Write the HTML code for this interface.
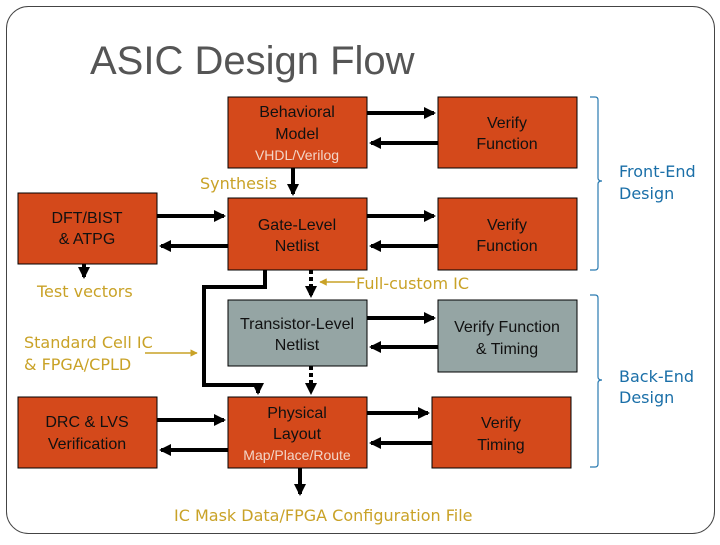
<!DOCTYPE html>
<html><head><style>
body{margin:0;background:#fff}
</style></head><body>
<svg width="720" height="540" xmlns="http://www.w3.org/2000/svg" font-family="Liberation Sans, sans-serif">
<defs>
<marker id="a" markerWidth="3" markerHeight="3" refX="2.5" refY="1.5" orient="auto" markerUnits="strokeWidth"><path d="M0,0L3,1.5L0,3z" fill="#000"/></marker>
<marker id="g" markerWidth="5" markerHeight="5" refX="4.5" refY="2.5" orient="auto" markerUnits="strokeWidth"><path d="M0,0L5,2.5L0,5z" fill="#c9a227"/></marker>
</defs>
<rect x="6.5" y="6.5" width="708" height="527" rx="22" fill="none" stroke="#444" stroke-width="1"/>
<text x="90" y="74" font-size="40" fill="#555">ASIC Design Flow</text>
<g stroke="#000" stroke-width="1">
<rect x="228" y="97" width="139" height="71" fill="#D4491B"/>
<rect x="438" y="97" width="139" height="71" fill="#D4491B"/>
<rect x="228" y="198" width="139" height="72" fill="#D4491B"/>
<rect x="438" y="198" width="139" height="72" fill="#D4491B"/>
<rect x="18" y="193" width="139" height="71" fill="#D4491B"/>
<rect x="228" y="300" width="139" height="66" fill="#95A5A4"/>
<rect x="438" y="300" width="139" height="72" fill="#95A5A4"/>
<rect x="228" y="397" width="139" height="71" fill="#D4491B"/>
<rect x="432" y="397" width="139" height="71" fill="#D4491B"/>
<rect x="18" y="397" width="139" height="71" fill="#D4491B"/>
</g>
<g stroke="#000" stroke-width="4" fill="none" marker-end="url(#a)">
<line x1="367" y1="113" x2="434" y2="113"/><line x1="438" y1="143" x2="371" y2="143"/>
<line x1="367" y1="216" x2="434" y2="216"/><line x1="438" y1="246" x2="371" y2="246"/>
<line x1="367" y1="318" x2="434" y2="318"/><line x1="438" y1="347" x2="371" y2="347"/>
<line x1="367" y1="413" x2="428" y2="413"/><line x1="432" y1="443" x2="371" y2="443"/>
<line x1="157" y1="216" x2="224" y2="216"/><line x1="228" y1="246" x2="161" y2="246"/>
<line x1="157" y1="420" x2="224" y2="420"/><line x1="228" y1="450" x2="161" y2="450"/>
<line x1="293" y1="168" x2="293" y2="194"/>
<line x1="84" y1="264" x2="84" y2="277"/>
<line x1="300" y1="468" x2="300" y2="494"/>
<polyline points="265,270 265,287 204,287 204,385 258,385 258,393"/>
<line x1="311" y1="270" x2="311" y2="296" stroke-dasharray="4,3"/>
<line x1="311" y1="366" x2="311" y2="393" stroke-dasharray="4,3"/>
</g>
<g stroke="#c9a227" stroke-width="1.5" marker-end="url(#g)">
<line x1="355" y1="282" x2="320" y2="282"/>
<line x1="145" y1="353" x2="197" y2="353"/>
</g>
<g font-size="16" fill="#111" text-anchor="middle">
<text x="297" y="117">Behavioral</text><text x="297" y="139">Model</text>
<text x="297" y="160" font-size="14" fill="#f3d6c8">VHDL/Verilog</text>
<text x="507" y="128">Verify</text><text x="507" y="149">Function</text>
<text x="297" y="230">Gate-Level</text><text x="297" y="251">Netlist</text>
<text x="507" y="230">Verify</text><text x="507" y="251">Function</text>
<text x="87" y="223">DFT/BIST</text><text x="87" y="244">&amp; ATPG</text>
<text x="297" y="329">Transistor-Level</text><text x="297" y="350">Netlist</text>
<text x="507" y="332">Verify Function</text><text x="507" y="354">&amp; Timing</text>
<text x="297" y="418">Physical</text><text x="297" y="439">Layout</text>
<text x="297" y="460" font-size="14" fill="#f3d6c8">Map/Place/Route</text>
<text x="501" y="428">Verify</text><text x="501" y="450">Timing</text>
<text x="87" y="427">DRC &amp; LVS</text><text x="87" y="449">Verification</text>
</g>
<g font-size="16" fill="#c9a227" font-family="DejaVu Sans, sans-serif">
<text x="200" y="189">Synthesis</text>
<text x="37" y="297">Test vectors</text>
<text x="356" y="289">Full-custom IC</text>
<text x="24" y="348">Standard Cell IC</text>
<text x="24" y="370">&amp; FPGA/CPLD</text>
<text x="174" y="521">IC Mask Data/FPGA Configuration File</text>
</g>
<g stroke="#2a7ab0" stroke-width="1.2" fill="none">
<path d="M590,97 h5 q3,0 3,3 v78 q0,3 4,3 q-4,0 -4,3 v83 q0,3 -3,3 h-5"/>
<path d="M590,295 h5 q3,0 3,3 v79 q0,3 4,3 q-4,0 -4,3 v81 q0,3 -3,3 h-5"/>
</g>
<g font-size="16" fill="#1a6fa8" font-family="DejaVu Sans, sans-serif">
<text x="619" y="177">Front-End</text><text x="619" y="199">Design</text>
<text x="619" y="382">Back-End</text><text x="619" y="403">Design</text>
</g>
</svg>
</body></html>
